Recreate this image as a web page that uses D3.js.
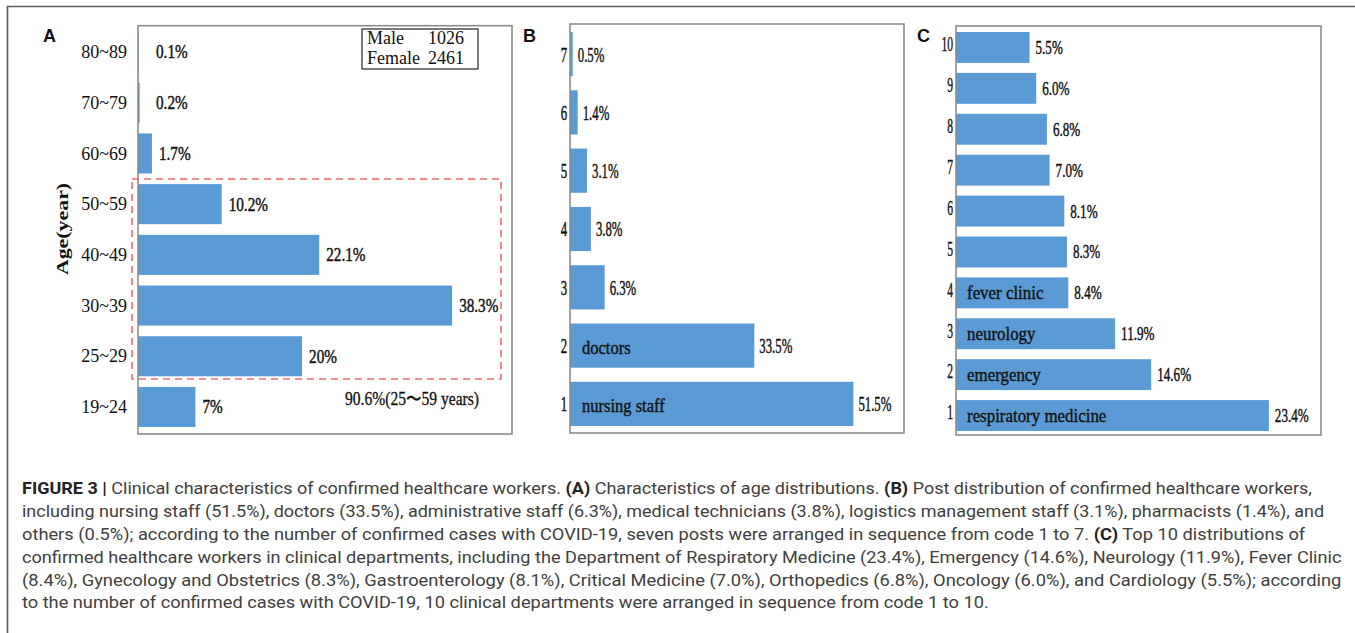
<!DOCTYPE html>
<html><head><meta charset="utf-8">
<script src="https://cdn.jsdelivr.net/npm/d3@7"></script>
<style>html,body{margin:0;padding:0;background:#fff;} svg{display:block;}</style>
</head><body>
<svg id="fig" width="1355" height="633"></svg>
<script>
// ---------- data ----------
const ageGroups = ["80~89","70~79","60~69","50~59","40~49","30~39","25~29","19~24"];
const agePercents = [0.1, 0.2, 1.7, 10.2, 22.1, 38.3, 20, 7];
const ageLabels = ["0.1%","0.2%","1.7%","10.2%","22.1%","38.3%","20%","7%"];

const sexNames = ["Male","Female"];
const sexCounts = [1026, 2461];
const ageNote = "90.6%(25〜59 years)";

const postCodes = ["7","6","5","4","3","2","1"];
const postPercents = [0.5, 1.4, 3.1, 3.8, 6.3, 33.5, 51.5];
const postLabels = ["0.5%","1.4%","3.1%","3.8%","6.3%","33.5%","51.5%"];
const postNames = ["","","","","","doctors","nursing staff"];

const deptCodes = ["10","9","8","7","6","5","4","3","2","1"];
const deptPercents = [5.5, 6.0, 6.8, 7.0, 8.1, 8.3, 8.4, 11.9, 14.6, 23.4];
const deptLabels = ["5.5%","6.0%","6.8%","7.0%","8.1%","8.3%","8.4%","11.9%","14.6%","23.4%"];
const deptNames = ["","","","","","","fever clinic","neurology","emergency","respiratory medicine"];

const captionLines = [
  [["FIGURE 3 | ",1],["Clinical characteristics of confirmed healthcare workers. ",0],["(A)",1],[" Characteristics of age distributions. ",0],["(B)",1],[" Post distribution of confirmed healthcare workers,",0]],
  [["including nursing staff (51.5%), doctors (33.5%), administrative staff (6.3%), medical technicians (3.8%), logistics management staff (3.1%), pharmacists (1.4%), and",0]],
  [["others (0.5%); according to the number of confirmed cases with COVID-19, seven posts were arranged in sequence from code 1 to 7. ",0],["(C)",1],[" Top 10 distributions of",0]],
  [["confirmed healthcare workers in clinical departments, including the Department of Respiratory Medicine (23.4%), Emergency (14.6%), Neurology (11.9%), Fever Clinic",0]],
  [["(8.4%), Gynecology and Obstetrics (8.3%), Gastroenterology (8.1%), Critical Medicine (7.0%), Orthopedics (6.8%), Oncology (6.0%), and Cardiology (5.5%); according",0]],
  [["to the number of confirmed cases with COVID-19, 10 clinical departments were arranged in sequence from code 1 to 10.",0]]
];
const captionEnds = [1313, 1325, 1306, 1342, 1342, 990];

// ---------- drawing ----------
const SERIF = "'Liberation Serif','Times New Roman',Times,serif";
const SANS = "'Liberation Sans',Arial,Helvetica,sans-serif";
const CAP = "Roboto,'Liberation Sans',Arial,sans-serif";
const BAR = "#5b9bd5";
const svg = d3.select("#fig");
svg.append("rect").attr("width",1355).attr("height",633).attr("fill","#fff");
svg.append("path").attr("d","M7.5,633 V6.5 H1355").attr("fill","none")
   .attr("stroke","#5e5e5e").attr("stroke-width",1.7);

function thick(sel, w){ return sel.attr("stroke","#111").attr("stroke-width",w).attr("paint-order","stroke"); }

function drawPanel(o){
  const g = svg.append("g");
  const x = d3.scaleLinear().domain([0,o.xMax]).range([o.x0,o.x1]);
  const y = d3.scaleBand().domain(o.cats).range([o.yTop,o.yBot]).paddingInner(o.pad);
  const bw = y.bandwidth();
  g.selectAll("rect.bar").data(o.cats).join("rect").attr("class","bar")
    .attr("x",x(0)).attr("y",c=>y(c))
    .attr("width",(c,i)=>x(o.vals[i])-x(0)).attr("height",bw).attr("fill",BAR);
  // category axis
  const ax = g.append("g").attr("transform",`translate(${o.x0},0)`)
    .call(d3.axisLeft(y).tickSize(0).tickPadding(0));
  ax.select(".domain").remove();
  ax.attr("font-family",null).attr("font-size",null);
  const tt = ax.selectAll(".tick text").attr("x",null).attr("dy","0.34em")
    .attr("transform",`translate(${-o.tickGap},${o.tickDy||0}) scale(${o.tickSx},1)`)
    .attr("text-anchor","end").attr("fill","#111")
    .style("font-family",SERIF).style("font-size",o.tickFs+"px");
  if(o.tickStroke) thick(tt, o.tickStroke);
  // value labels
  const vt = g.selectAll("text.val").data(o.cats).join("text").attr("class","val")
    .attr("transform",(c,i)=>`translate(${Math.max(x(o.vals[i])+o.valGap, x(0)+(o.valMin||0))},${y(c)+bw/2}) scale(${o.valSx},1)`)
    .attr("dy","0.34em").attr("fill","#111")
    .style("font-family",SERIF).style("font-size",o.valFs+"px")
    .text((c,i)=>o.labels[i]);
  thick(vt, 0.45);
  // names inside bars
  if(o.names){
    const nt = g.selectAll("text.name").data(o.cats.filter((c,i)=>o.names[i]!=="")).join("text").attr("class","name")
      .attr("transform",c=>`translate(${x(0)+o.nameDx},${y(c)+bw/2+(o.nameDy||0)}) scale(${o.nameSx},1)`)
      .attr("dy","0.34em").attr("fill","#111")
      .style("font-family",SERIF).style("font-size",o.nameFs+"px")
      .text(c=>o.names[o.cats.indexOf(c)]);
    thick(nt, 0.4);
  }
  // frame
  g.append("rect").attr("x",o.x0).attr("y",o.fy0).attr("width",o.x1-o.x0).attr("height",o.fy1-o.fy0)
    .attr("fill","none").attr("stroke","#8c8c8c").attr("stroke-width",1.6);
  // panel letter
  svg.append("text").attr("x",o.letterX).attr("y",42).text(o.letter)
    .style("font-family",SANS).style("font-size","18px").style("font-weight","bold").attr("fill","#111");
  return {g,x,y};
}

// Panel A
drawPanel({cats:ageGroups, vals:agePercents, labels:ageLabels, xMax:45.6, x0:138, x1:512,
  yTop:32, yBot:427, pad:0.21, fy0:25.7, fy1:434,
  tickGap:11, tickSx:1, tickFs:18, valGap:7, valMin:18, valSx:0.8, valFs:19,
  letter:"A", letterX:43});
svg.append("text").attr("transform","translate(68,229) rotate(-90) scale(1.25,1)")
  .attr("text-anchor","middle").text("Age(year)")
  .style("font-family",SERIF).style("font-size","17.5px").style("font-weight","bold").attr("fill","#111");
// dashed highlight
svg.append("rect").attr("x",132).attr("y",179).attr("width",369).attr("height",200)
  .attr("fill","none").attr("stroke","#f26b6b").attr("stroke-width",1.6).attr("stroke-dasharray","7,5");
thick(svg.append("text").attr("x",345).attr("y",405).attr("textLength",134).attr("lengthAdjust","spacingAndGlyphs")
  .text(ageNote).style("font-family",SERIF).style("font-size","18px").attr("fill","#111"), 0.3);
// sex legend
svg.append("rect").attr("x",362).attr("y",29).attr("width",116).attr("height",40)
  .attr("fill","#fff").attr("stroke","#333").attr("stroke-width",1.3);
sexNames.forEach((n,i)=>{
  svg.append("text").attr("x",367).attr("y",44+20*i).text(n)
    .style("font-family",SERIF).style("font-size","18px").attr("fill","#111");
  svg.append("text").attr("x",464).attr("y",44+20*i).attr("text-anchor","end").text(sexCounts[i])
    .style("font-family",SERIF).style("font-size","18px").attr("fill","#111");
});

// Panel B
drawPanel({cats:postCodes, vals:postPercents, labels:postLabels, names:postNames, xMax:60.7, x0:570, x1:904,
  yTop:32, yBot:426, pad:0.242, fy0:24, fy1:433,
  tickGap:3, tickSx:0.58, tickFs:22, tickStroke:0.5, valGap:5, valSx:0.58, valFs:22,
  nameDx:12, nameSx:0.87, nameFs:19, nameDy:2,
  letter:"B", letterX:523});

// Panel C
drawPanel({cats:deptCodes, vals:deptPercents, labels:deptLabels, names:deptNames, xMax:27.3, x0:956, x1:1321,
  yTop:32, yBot:431, pad:0.244, fy0:26, fy1:435,
  tickGap:3, tickDy:-3, tickSx:0.58, tickFs:20, tickStroke:0.4, valGap:6, valSx:0.69, valFs:19,
  nameDx:11, nameSx:0.89, nameFs:19,
  letter:"C", letterX:917});

// caption
captionLines.forEach((segs,i)=>{
  const t = svg.append("text").attr("transform",`translate(22,${494.3+22.8*i})`)
    .style("font-family",CAP).style("font-size","16px");
  segs.forEach(([s,b])=>{
    t.append("tspan").text(s).attr("fill",b?"#222":"#404040").style("font-weight",b?"bold":"normal");
  });
  const w = t.node().getComputedTextLength();
  t.attr("transform",`translate(22,${494.3+22.8*i}) scale(${(captionEnds[i]-22)/w},1)`);
});
</script>
</body></html>
